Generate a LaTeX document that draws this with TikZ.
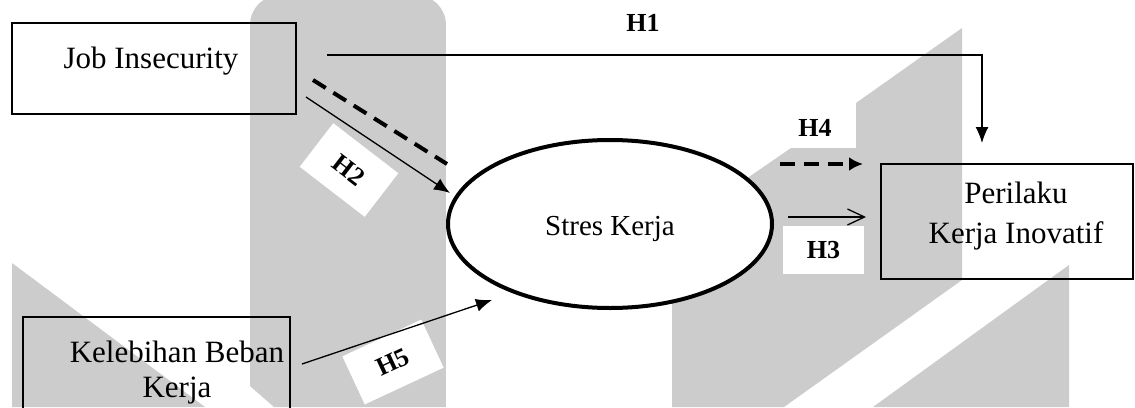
\documentclass[tikz,border=0pt]{standalone}
\usepackage{fontspec}
\setmainfont{Liberation Serif}
\usetikzlibrary{arrows.meta,shapes.geometric}

\definecolor{wmgray}{HTML}{CCCCCC}

\tikzset{
    varbox/.style={draw=black,line width=2pt,inner sep=0pt},
    vartext/.style={inner sep=0pt,font=\fontsize{31}{35.5}\selectfont},
    hyp/.style={inner sep=0pt,font=\bfseries\fontsize{26}{30}\selectfont},
    hypbox/.style={hyp,fill=white},
    link/.style={line width=1.3pt,-{Latex[length=16pt,width=13pt]}},
    modlink/.style={line width=4pt,dash pattern=on 15pt off 9pt},
}

\begin{document}
\begin{tikzpicture}[x=1pt,y=-1pt]

% Fix the page size and clip to it
\useasboundingbox (0,0) rectangle (1135,407);
\clip (0,0) rectangle (1135,407);
\fill[white] (0,0) rectangle (1135,407);

% Draw the grey watermark shapes
\begin{scope}
    \clip (250,386) -- (250,-20) -- (446,-20) -- (446,407) -- (274,407) -- cycle;
    \fill[wmgray,rounded corners=30pt] (250,-5) rectangle (446,450);
\end{scope}
\fill[wmgray] (12,263) -- (12,407) -- (205,407) -- cycle;
\fill[wmgray] (672,407) -- (672,230) -- (791,148) -- (856,148) -- (856,103)
    -- (962,28) -- (962,280) -- (784,407) -- cycle;
\fill[wmgray] (1069,265) -- (1069,407) -- (873,407) -- cycle;

% Draw the variable boxes and the ellipse
\node[varbox,minimum width=284pt,minimum height=91pt] (job) at (154,68.5) {};
\node[varbox,minimum width=267pt,minimum height=140pt] (beban) at (156.5,387) {};
\node[varbox,minimum width=252pt,minimum height=115pt] (inov) at (1007,221.5) {};
\node[draw=black,fill=white,line width=4pt,ellipse,inner sep=0pt,
    minimum width=324pt,minimum height=168pt,text height=22pt,text depth=0pt,
    font=\fontsize{29}{34}\selectfont] (stres) at (610,224) {Stres Kerja};

% Draw the variable names
\node[vartext,anchor=base] (jobtxt) at (151,68) {Job Insecurity};
\node[vartext,align=center] (bebantxt) at (177,372.5) {Kelebihan Beban\\Kerja};
\node[vartext,align=center] (inovtxt) at (1016,216) {Perilaku\\[4.5pt]Kerja Inovatif};

% Draw the hypothesis labels
\node[hyp] (h1) at (643,23) {H1};
\node[hyp] (h4) at (815,128) {H4};
\node[hypbox,minimum width=81pt,minimum height=48pt] (h3) at (823.5,250) {H3};
\node[hypbox,rotate=-37.6,minimum width=82pt,minimum height=55pt] (h2) at (349,170) {H2};
\node[hypbox,rotate=25,minimum width=87pt,minimum height=53pt] (h5) at (393,362) {H5};

% Ends of the paths
\coordinate (h1a) at (327,55);
\coordinate (h1b) at (982,143);
\coordinate (h2a) at (306,97);
\coordinate (h2b) at (450,193);
\coordinate (h2da) at (313,80);
\coordinate (h2db) at (447,164);
\coordinate (h3a) at (788,217);
\coordinate (h3b) at (866,217);
\coordinate (h4a) at (780,164);
\coordinate (h4b) at (863,164);
\coordinate (h5a) at (302,364);
\coordinate (h5b) at (492,300);

% Draw the arrows for the paths
\draw[link] (h1a) -| (h1b);
\draw[link] (h2a) -- (h2b);
\draw[modlink] (h2da) -- (h2db);
\draw[line width=1.3pt,-{Straight Barb[length=17pt,width=16pt]}] (h3a) -- (h3b);
\draw[modlink,-{Latex[length=14pt,width=14pt]}] (h4a) -- (h4b);
\draw[link] (h5a) -- (h5b);

\end{tikzpicture}
\end{document}
